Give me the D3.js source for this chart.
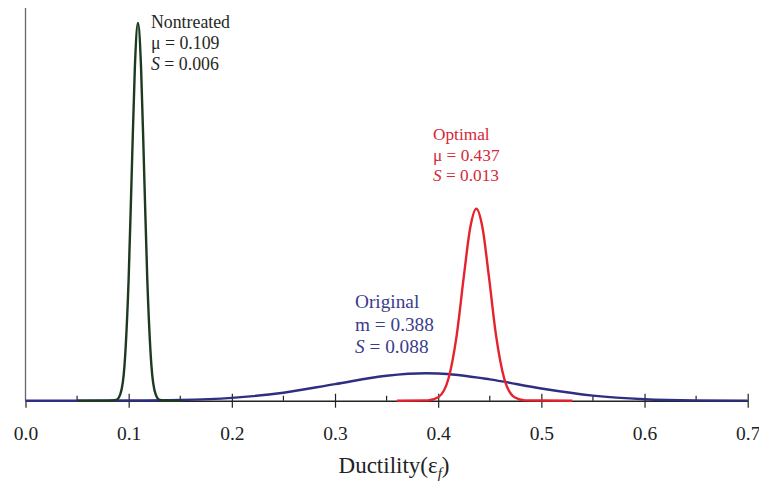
<!DOCTYPE html>
<html>
<head>
<meta charset="utf-8">
<script src="https://cdn.jsdelivr.net/npm/d3@7"></script>
<style>
  body { margin: 0; background: #fff; }
  text { font-family: "Liberation Serif", "DejaVu Serif", serif; }
</style>
</head>
<body>
<svg id="chart" width="759" height="484"></svg>
<script>
var width = 759, height = 484;

// x ticks
var majorTicks = [0.0, 0.1, 0.2, 0.3, 0.4, 0.5, 0.6, 0.7];
var minorTicks = [0.05, 0.15, 0.25, 0.35, 0.45, 0.55, 0.65];

// curves (relative density)
var nontreatedX = [0.05, 0.08, 0.088, 0.092, 0.096, 0.1, 0.103, 0.106, 0.109, 0.112, 0.115, 0.118, 0.122, 0.126, 0.130, 0.138, 0.152];
var nontreatedY = [0, 0, 0.15, 1.2, 6.3, 21.6, 40.3, 58.7, 66.5, 58.7, 40.3, 21.6, 6.3, 1.2, 0.15, 0, 0];

var optimalX = [0.36, 0.39, 0.40, 0.41, 0.418, 0.425, 0.431, 0.437, 0.443, 0.449, 0.456, 0.464, 0.474, 0.484, 0.53];
var optimalY = [0, 0.05, 0.6, 3.9, 11.6, 22.1, 30.4, 33.8, 30.4, 22.1, 11.6, 3.9, 0.6, 0.05, 0];

var originalX = [0, 0.05, 0.1, 0.15, 0.2, 0.25, 0.3, 0.35, 0.388, 0.4, 0.45, 0.5, 0.55, 0.6, 0.65, 0.7];
var originalY = [0, 0.003, 0.023, 0.12, 0.49, 1.41, 2.92, 4.39, 4.82, 4.78, 3.76, 2.14, 0.89, 0.265, 0.057, 0.009];

var svg = d3.select("#chart");

var x = d3.scaleLinear().domain([0, 0.7]).range([25.5, 747.7]);
var y = d3.scaleLinear().domain([0, 66.5]).range([400.7, 23]);

var line = d3.line()
    .x(function(d) { return x(d[0]); })
    .y(function(d) { return y(d[1]); })
    .curve(d3.curveMonotoneX);

function drawCurve(xs, ys, colour) {
    svg.append("path")
        .datum(d3.zip(xs, ys))
        .attr("d", line)
        .attr("fill", "none")
        .attr("stroke", colour)
        .attr("stroke-width", 2.4)
        .attr("stroke-linejoin", "round");
}

// left axis line
svg.append("line")
    .attr("x1", x(0)).attr("x2", x(0))
    .attr("y1", 8).attr("y2", y(0))
    .attr("stroke", "#666").attr("stroke-width", 1.3);

// bottom axis
var xAxis = d3.axisBottom(x)
    .tickValues(majorTicks)
    .tickFormat(d3.format(".1f"))
    .tickSize(7)
    .tickSizeOuter(0)
    .tickPadding(18);

var gx = svg.append("g")
    .attr("transform", "translate(0," + y(0) + ")")
    .call(xAxis);
gx.select(".domain").attr("stroke", "#222").attr("stroke-width", 1.6);
gx.selectAll(".tick line")
    .attr("y1", function(d) { return d === 0 ? 0 : -7; })
    .attr("stroke", "#222").attr("stroke-width", 1.2);
gx.selectAll(".tick text")
    .attr("font-family", "'Liberation Serif', serif")
    .attr("font-size", 19.5)
    .attr("fill", "#222");

svg.append("g").selectAll("line")
    .data(minorTicks)
    .join("line")
    .attr("x1", function(d) { return x(d); })
    .attr("x2", function(d) { return x(d); })
    .attr("y1", y(0) - 5).attr("y2", y(0))
    .attr("stroke", "#222").attr("stroke-width", 1.2);

// curves
drawCurve(originalX, originalY, "#2e2f80");
drawCurve(nontreatedX, nontreatedY, "#1d3a20");
drawCurve(optimalX, optimalY, "#e5232e");

// labels
function label(px, py, size, colour, name, sym, val, sval, gap) {
    var t = svg.append("text")
        .attr("x", px).attr("y", py)
        .attr("font-size", size)
        .attr("fill", colour);
    t.append("tspan").attr("x", px).text(name);
    var l2 = t.append("tspan").attr("x", px).attr("dy", gap);
    l2.append("tspan").text(sym + " = " + val);
    var l3 = t.append("tspan").attr("x", px).attr("dy", gap);
    l3.append("tspan").attr("font-style", "italic").text("S");
    l3.append("tspan").text(" = " + sval);
}

label(151, 28, 17.8, "#1f2a1f", "Nontreated", "\u03bc", "0.109", "0.006", 21);
label(433, 140, 17.3, "#d42a3a", "Optimal", "\u03bc", "0.437", "0.013", 20.5);
label(355, 308, 19.3, "#3a3d8c", "Original", "m", "0.388", "0.088", 22.5);

// x title
var title = svg.append("text")
    .attr("x", 394).attr("y", 473)
    .attr("text-anchor", "middle")
    .attr("font-size", 23)
    .attr("fill", "#222");
title.append("tspan").text("Ductility(\u03b5");
title.append("tspan").attr("font-style", "italic").attr("font-size", 15).attr("dy", 5).text("f");
title.append("tspan").attr("dy", -5).text(")");
</script>
</body>
</html>
